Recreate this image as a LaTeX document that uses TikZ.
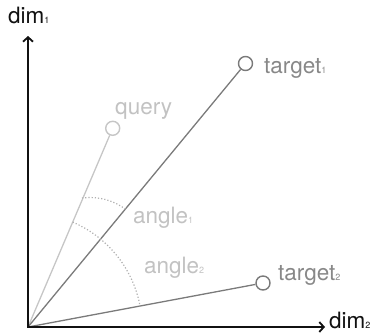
\documentclass[tikz,border=0pt]{standalone}
\usepackage{fontspec}
\setmainfont{TeX Gyre Heros}
\usetikzlibrary{arrows.meta}
\definecolor{axiscol}{HTML}{111111}
\definecolor{darkg}{HTML}{7A7A7A}
\definecolor{darktext}{HTML}{888888}
\definecolor{lightg}{HTML}{C6C6C6}
\definecolor{lighttext}{HTML}{C2C2C2}
\definecolor{dotg}{HTML}{B0B0B0}
\newcommand{\lbsub}[1]{{\fontsize{9}{9}\selectfont #1}}
\tikzset{
  axisline/.style={draw=axiscol, line width=1.6pt, -{Straight Barb[length=4.5pt,width=10pt,line width=1.8pt]}},
  vecdark/.style={draw=darkg, line width=1.3pt},
  veclight/.style={draw=lightg, line width=1.3pt},
  ptdark/.style={circle, draw=darkg, line width=1.4pt, minimum size=14pt, inner sep=0pt},
  ptlight/.style={circle, draw=lightg, line width=1.4pt, minimum size=14pt, inner sep=0pt},
  lab/.style={anchor=base west, inner sep=0pt, font=\fontsize{22.5}{25}\selectfont},
  anglearc/.style={draw=dotg, line width=1.2pt, dotted}
}
\begin{document}
\begin{tikzpicture}[x=1pt,y=1pt]
\useasboundingbox (0,0) rectangle (375,333);
\coordinate (O) at (28,6);
\coordinate (ytop) at (28,297);
\coordinate (xend) at (325,6);
\node[ptlight] (q) at (112.7,204.7) {};
\node[ptdark] (t1) at (245.5,269.5) {};
\node[ptdark] (t2) at (263,50) {};
\draw[veclight] (O) -- (q);
\draw[vecdark] (O) -- (t1);
\draw[vecdark] (O) -- (t2);
% angle arcs
\coordinate (a1s) at (82,135);
\coordinate (a1e) at (126.5,123);
\draw[anglearc] (a1s) .. controls (100,137) and (115,132) .. (a1e);
\draw[anglearc] (O) ++(66.9:114) arc[start angle=66.9, end angle=10.4, radius=114];
% axes
\draw[axisline] (O) -- (ytop);
\draw[axisline] ([xshift=-0.8pt]O) -- (xend);
% labels
\node[lab, text=axiscol] (d1) at (8,309) {dim\lbsub{1}};
\node[lab, text=axiscol] (d2) at (329,4.5) {dim\lbsub{2}};
\node[lab, text=darktext] (lt1) at (264,260) {target\lbsub{1}};
\node[lab, text=darktext] (lt2) at (278,53) {target\lbsub{2}};
\node[lab, text=lighttext] (lq) at (115,219) {query};
\node[lab, text=lighttext] (la1) at (133,110) {angle\lbsub{1}};
\node[lab, text=lighttext] (la2) at (144,60) {angle\lbsub{2}};
\end{tikzpicture}
\end{document}
